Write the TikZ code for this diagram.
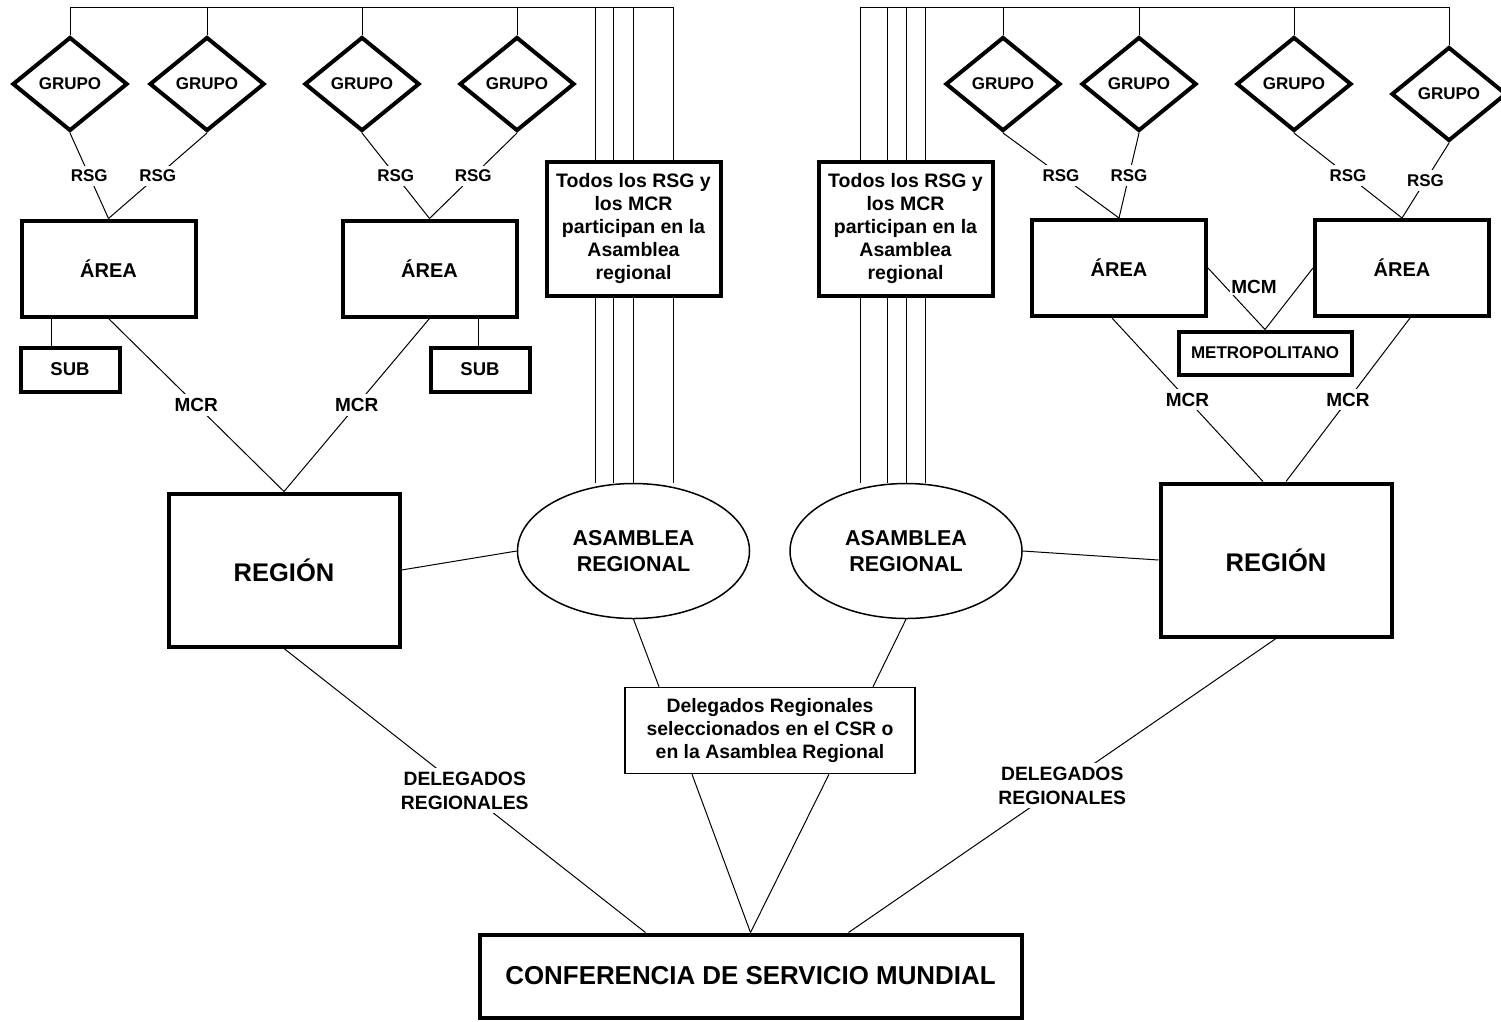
\documentclass[tikz,border=0pt]{standalone}
\usepackage{fontspec}
\setmainfont{Liberation Sans}
\usetikzlibrary{shapes.geometric}

\begin{document}
\begin{tikzpicture}[
  x=1pt, y=-1pt,
  every node/.style = {align=center, inner sep=1pt, font=\bfseries},
  link/.style = {line width=1pt},
  heavy/.style = {draw, rectangle, line width=4pt, inner sep=0pt},
  grupo/.style = {draw, diamond, line width=4pt, minimum width=115, minimum height=94,
    inner sep=0pt, font=\bfseries\fontsize{17}{20}\selectfont},
  area/.style = {heavy, minimum width=174, minimum height=96, font=\bfseries\fontsize{20}{24}\selectfont},
  sub/.style = {heavy, minimum width=99, minimum height=44, font=\bfseries\fontsize{18.5}{22}\selectfont},
  region/.style = {heavy, minimum width=231, minimum height=153, font=\bfseries\fontsize{25.5}{30}\selectfont},
  todos/.style = {heavy, minimum width=174, minimum height=134, font=\bfseries\fontsize{19.5}{23}\selectfont},
  metro/.style = {heavy, minimum width=173, minimum height=43, font=\bfseries\fontsize{17}{20}\selectfont},
  asamblea/.style = {draw, ellipse, line width=1.5pt, minimum width=232, minimum height=135,
    inner sep=0pt, font=\bfseries\fontsize{21.5}{26}\selectfont},
  elegidos/.style = {draw, rectangle, line width=1.5pt, minimum width=290, minimum height=86,
    inner sep=0pt, font=\bfseries\fontsize{19.4}{23}\selectfont},
  mundial/.style = {heavy, minimum width=542, minimum height=83, font=\bfseries\fontsize{25.9}{30}\selectfont},
  rsg/.style = {fill=white, inner sep=4pt, font=\bfseries\fontsize{17}{20}\selectfont},
  mcr/.style = {fill=white, inner sep=4pt, font=\bfseries\fontsize{19}{22}\selectfont},
  deleg/.style = {fill=white, inner sep=4pt, font=\bfseries\fontsize{19.3}{24}\selectfont}
  ]
  \useasboundingbox (0,0) rectangle (1501,1021);

  \node[grupo] (g1) at (70,84) {GRUPO};
  \node[grupo] (g2) at (207,84) {GRUPO};
  \node[grupo] (g3) at (362,84) {GRUPO};
  \node[grupo] (g4) at (517,84) {GRUPO};
  \node[grupo] (g5) at (1003,84) {GRUPO};
  \node[grupo] (g6) at (1139,84) {GRUPO};
  \node[grupo] (g7) at (1294,84) {GRUPO};
  \node[grupo] (g8) at (1449,94) {GRUPO};

  \node[area] (a1) at (108.5,268.5) {ÁREA};
  \node[area] (a2) at (429.5,268.5) {ÁREA};
  \node[area] (a3) at (1119,268) {ÁREA};
  \node[area] (a4) at (1402,268) {ÁREA};

  \node[sub] (s1) at (70,369.5) {SUB};
  \node[sub] (s2) at (480,369.5) {SUB};
  \node[metro] (m) at (1265,353) {METROPOLITANO};

  \node[todos] (t1) at (633.5,228.5) {Todos los RSG y\\los MCR\\participan en la\\Asamblea\\regional};
  \node[todos] (t2) at (905.5,228.5) {Todos los RSG y\\los MCR\\participan en la\\Asamblea\\regional};

  \node[region] (r1) at (284,570) {REGIÓN};
  \node[region] (r2) at (1276,560) {REGIÓN};
  \node[asamblea] (as1) at (633.5,551) {ASAMBLEA\\REGIONAL};
  \node[asamblea] (as2) at (906,551) {ASAMBLEA\\REGIONAL};

  \node[elegidos] (d) at (770,730.5) {Delegados Regionales\\seleccionados en el CSR o\\en la Asamblea Regional};
  \node[mundial] (c) at (750.5,976) {CONFERENCIA DE SERVICIO MUNDIAL};

  \coordinate (busl) at (673,7);
  \coordinate (busr) at (860,7);
  \draw[link] (g1.north) |- (busl);
  \draw[link] (g8.north) |- (busr);
  \foreach \g in {g2,g3,g4,g5,g6,g7}
    \draw[link] (\g.north) -- (\g.north |- busl);
  \foreach \x in {595,613,633,673} {
    \coordinate (l\x) at (\x,7);
    \draw[link] (l\x) -- (l\x |- t1.north);
    \draw[link] (l\x |- t1.south) -- (l\x |- as1.north);
  }
  \foreach \x in {860,887,906,925} {
    \coordinate (r\x) at (\x,7);
    \draw[link] (r\x) -- (r\x |- t2.north);
    \draw[link] (r\x |- t2.south) -- (r\x |- as2.north);
  }

  \draw[link] (g1.south) -- node[rsg] {RSG} (a1.north);
  \draw[link] (g2.south) -- node[rsg] {RSG} (a1.north);
  \draw[link] (g3.south) -- node[rsg] {RSG} (a2.north);
  \draw[link] (g4.south) -- node[rsg] {RSG} (a2.north);
  \draw[link] (g5.south) -- node[rsg] {RSG} (a3.north);
  \draw[link] (g6.south) -- node[rsg] {RSG} (a3.north);
  \draw[link] (g7.south) -- node[rsg] {RSG} (a4.north);
  \draw[link] (g8.south) -- node[rsg] {RSG} (a4.north);

  \draw[link] ([xshift=-19]s1.north) -- ([xshift=-19]s1.north |- a1.south);
  \draw[link] ([xshift=-2]s2.north) -- ([xshift=-2]s2.north |- a2.south);

  \draw[link] (a1.south) -- node[mcr] {MCR} (r1.north);
  \draw[link] (a2.south) -- node[mcr] {MCR} (r1.north);
  \draw[link] ([xshift=-7]a3.south) -- node[mcr] {MCR} ([xshift=-13]r2.north);
  \draw[link] ([xshift=8]a4.south) -- node[mcr] {MCR} ([xshift=10]r2.north);

  \draw[link] (a3.east) -- (m.north);
  \draw[link] (a4.west) -- (m.north);
  \node[mcr, inner sep=1pt] (mcm) at (1254,287) {MCM};

  \draw[link] (r1.east) -- (as1.west);
  \draw[link] (as2.east) -- (r2.west);
  \draw[link] (as1.south) -- ([xshift=-111]d.north);
  \draw[link] (as2.south) -- ([xshift=103]d.north);

  \draw[link] (r1.south) -- node[deleg] {DELEGADOS\\REGIONALES} ([xshift=-105]c.north);
  \draw[link] (r2.south) -- node[deleg] {DELEGADOS\\REGIONALES} ([xshift=98]c.north);
  \draw[link] ([xshift=-78]d.south) -- (c.north);
  \draw[link] ([xshift=59]d.south) -- (c.north);
\end{tikzpicture}
\end{document}
